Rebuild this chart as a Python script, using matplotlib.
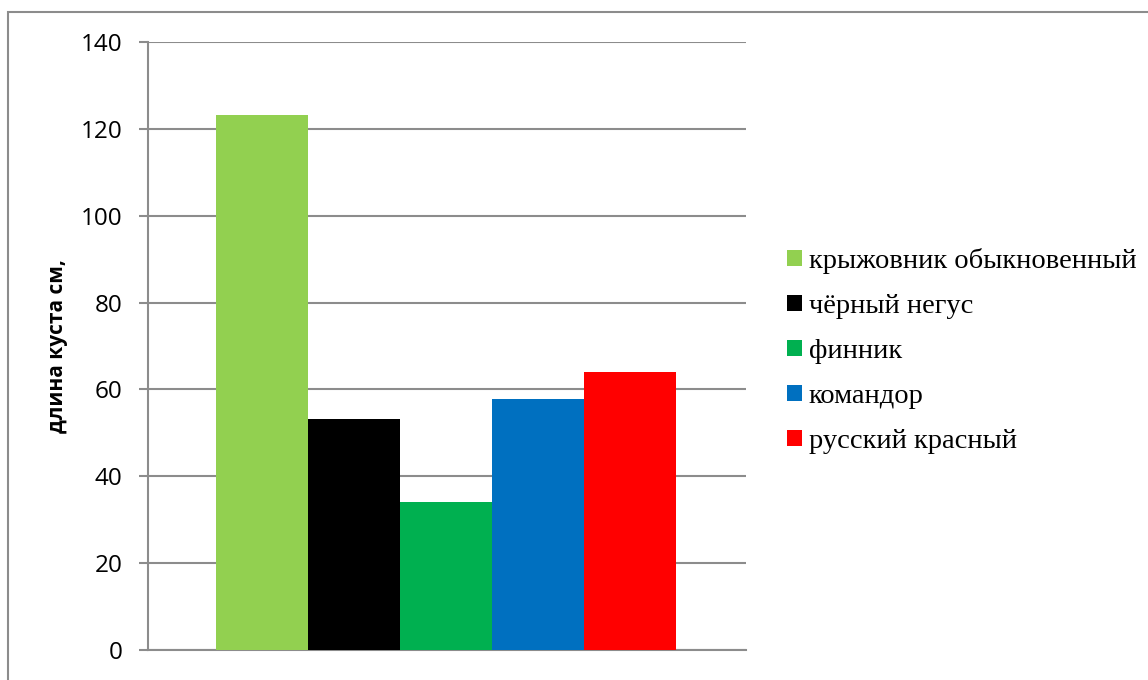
import matplotlib.pyplot as plt
from matplotlib.patches import Rectangle

# Данные
sorts = ['крыжовник обыкновенный', 'чёрный негус', 'финник', 'командор', 'русский красный']
lengths = [123.2, 53.2, 34.0, 57.8, 64.0]
colors = ['#92d050', '#000000', '#00b050', '#0070c0', '#ff0000']
y_ticks = [0, 20, 40, 60, 80, 100, 120, 140]

fig = plt.figure(figsize=(11.48, 6.8), dpi=100)
ax = fig.add_axes([0.1289, 0.0441, 0.5205, 0.8941])

# рамка вокруг рисунка
fig.patches.append(Rectangle((8 / 1148, -0.1), 1.2, 1.1 - 12 / 680, transform=fig.transFigure,
                             fill=False, edgecolor='#8c8c8c', linewidth=1.5))

for i, (name, val, col) in enumerate(zip(sorts, lengths, colors)):
    ax.bar(i, val, width=1.0, color=col, label=name, zorder=3)

ax.set_xlim(-1.24, 5.25)
ax.set_ylim(0, 140)
ax.set_yticks(y_ticks)
ax.set_xticks([])
ax.grid(axis='y', color='#8c8c8c', linewidth=1.5, zorder=0)
for s in ['top', 'right']:
    ax.spines[s].set_visible(False)
ax.spines['left'].set_color('#8c8c8c')
ax.spines['left'].set_linewidth(1.5)
ax.spines['bottom'].set_color('#8c8c8c')
ax.spines['bottom'].set_linewidth(1.5)
ax.tick_params(axis='y', length=6.5, width=1.5, color='#8c8c8c', labelsize=17.5, pad=12)
for t in ax.get_yticklabels():
    t.set_family('Open Sans')

ax.set_ylabel('длина куста см,', fontsize=15, fontweight='bold', family='Open Sans', labelpad=9)

leg = ax.legend(loc='center left', bbox_to_anchor=(1.027, 0.492), frameon=False,
                prop={'family': 'Liberation Serif', 'size': 20.5},
                handlelength=0.5, handleheight=0.5, handletextpad=0.25, labelspacing=0.7)

plt.savefig('out.png', dpi=100)
